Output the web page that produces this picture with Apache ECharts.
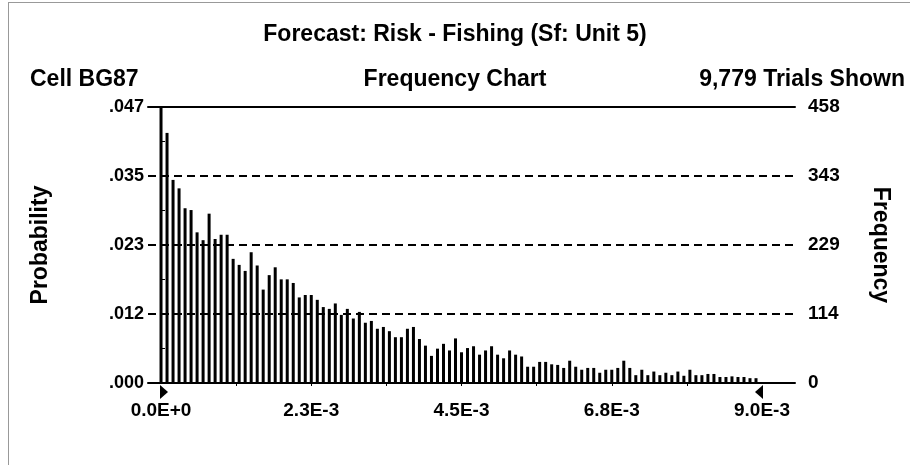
<!DOCTYPE html>
<html><head><meta charset="utf-8">
<script src="https://cdn.jsdelivr.net/npm/echarts@6/dist/echarts.min.js"></script>
<style>
html,body{margin:0;padding:0;background:#fff}
#frame{position:absolute;left:8px;top:2px;width:902px;height:463px;border-left:1px solid #999;border-top:1px solid #999;box-sizing:border-box}
#chart{position:absolute;left:0;top:0;width:910px;height:465px}
</style>
</head><body><div id="frame"></div><div id="chart"></div>
<script>
// ---- data ----
const chartTitle = 'Forecast: Risk - Fishing (Sf: Unit 5)';
const cellLabel = 'Cell BG87';
const chartType = 'Frequency Chart';
const trialsLabel = '9,779 Trials Shown';
const totalTrials = 9779;
const binWidth = 0.00009;           // 100 bins from 0 to 9.0E-3
const frequencies = [
  458,415,337,323,290,287,250,237,281,239,
  246,246,206,196,186,217,195,155,179,192,
  172,172,166,142,146,146,138,126,123,132,
  113,123,107,118,100,103,90,93,86,76,
  76,90,93,73,62,45,57,65,54,74,
  51,58,61,47,54,61,47,41,54,47,
  44,27,27,35,35,31,30,25,37,27,
  22,25,25,17,22,22,25,37,25,13,
  22,13,19,13,17,13,19,12,22,13,
  13,15,15,10,10,11,10,10,8,8
];
const xTickValues = [0, 0.00225, 0.0045, 0.00675, 0.009];
const xTickLabels = ['0.0E+0', '2.3E-3', '4.5E-3', '6.8E-3', '9.0E-3'];
const xMinorTicks = [0.001125, 0.00225, 0.003375, 0.0045, 0.005625, 0.00675, 0.007875];
const freqMax = 458;
const freqInterval = 114.5;
const certaintyRange = [0, 0.009];
const axisNames = ['Probability', 'Frequency'];

// ---- chart ----
const FONT = '"Liberation Sans", Arial, sans-serif';
const txt = (size) => ({fontFamily: FONT, fontWeight: 'bold', fontSize: size, color: '#000'});
const xMin = -0.000195, xMax = 0.009494;

const chart = echarts.init(document.getElementById('chart'), null, {renderer: 'canvas'});
chart.setOption({
  animation: false,
  backgroundColor: 'transparent',
  title: [
    {text: chartTitle, left: 'center', top: 18, textStyle: txt(23)},
    {text: cellLabel, left: 25, top: 63, textStyle: txt(23)},
    {text: chartType, left: 'center', top: 63, textStyle: txt(23)},
    {text: trialsLabel, right: 0, top: 63, textStyle: txt(23)}
  ],
  grid: {left: 148, right: 115, top: 107, bottom: 82},
  xAxis: [
    {
      type: 'value', min: xMin, max: xMax, position: 'bottom',
      axisLine: {show: true, onZero: false, lineStyle: {color: '#000', width: 2}},
      axisTick: {show: true, customValues: xMinorTicks, length: 3, lineStyle: {color: '#000', width: 1}},
      axisLabel: {
        customValues: xTickValues, margin: 18, ...txt(19),
        formatter: (v) => {
          const i = xTickValues.findIndex(t => Math.abs(t - v) < 1e-7);
          return i >= 0 ? xTickLabels[i] : '';
        }
      },
      splitLine: {show: false}
    },
    {
      type: 'value', min: xMin, max: xMax, position: 'top',
      axisLine: {show: true, onZero: false, lineStyle: {color: '#000', width: 2}},
      axisTick: {show: false}, axisLabel: {show: false}, splitLine: {show: false}
    }
  ],
  yAxis: [
    {
      type: 'value', position: 'left', min: 0, max: freqMax, interval: freqInterval,
      axisLine: {show: false}, axisTick: {show: false}, splitLine: {show: false},
      axisLabel: {...txt(18), margin: 4, formatter: (v) => (v / totalTrials).toFixed(3).replace(/^0/, '')},
      name: axisNames[0], nameLocation: 'middle', nameRotate: 90, nameGap: 96,
      nameTextStyle: txt(23)
    },
    {
      type: 'value', position: 'right', min: 0, max: freqMax, interval: freqInterval,
      axisLine: {show: true, lineStyle: {color: '#000', width: 2}},
      axisTick: {show: true, length: 4, lineStyle: {color: '#000', width: 1}},
      minorTick: {show: true, splitNumber: 2, length: 4, lineStyle: {color: '#000', width: 1}},
      axisLabel: {...txt(19), margin: 13, formatter: (v) => String(Math.floor(v))},
      splitLine: {show: true, lineStyle: {color: '#000', width: 2, type: [8, 5]}},
      name: axisNames[1], nameLocation: 'middle', nameRotate: -90, nameGap: 74,
      nameTextStyle: txt(23)
    }
  ],
  series: [{
    type: 'bar', xAxisIndex: 0, yAxisIndex: 1, barWidth: 3,
    itemStyle: {color: '#000'},
    data: frequencies.map((f, i) => [i * binWidth, f]),
    markPoint: {
      label: {show: false},
      symbolKeepAspect: false,
      data: [
        {coord: [certaintyRange[0], 0], symbol: 'path://M0,0 L8,7 L0,14 Z', symbolSize: [8, 14], symbolOffset: [3, 9], itemStyle: {color: '#000'}},
        {coord: [certaintyRange[1], 0], symbol: 'path://M8,0 L0,7 L8,14 Z', symbolSize: [8, 14], symbolOffset: [-3, 9], itemStyle: {color: '#000'}}
      ]
    }
  }]
});
</script></body></html>
